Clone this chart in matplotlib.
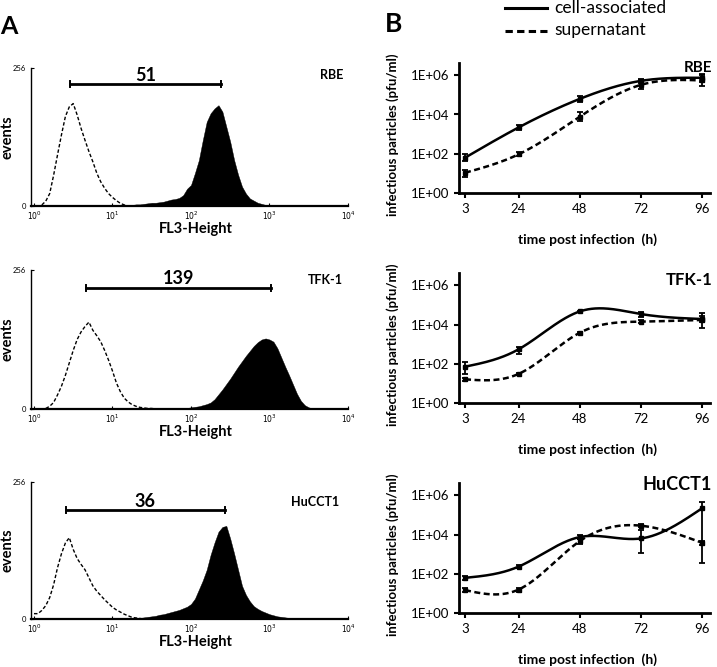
import numpy as np
import matplotlib
matplotlib.use('Agg')
import matplotlib.pyplot as plt
from matplotlib.lines import Line2D
from matplotlib.ticker import NullLocator

plt.rcParams['font.family'] = ['Lato', 'DejaVu Sans']

# ---------------- data: panel A (flow cytometry histograms, 0.05-decade bins) ----------------
hist_step = 0.05
rbe_ctrl_start = 0.10
rbe_ctrl = [2, 9, 23, 57, 95, 132, 166, 184, 190, 169, 144, 122, 101, 82, 61, 45, 33, 23, 16, 10, 5, 2, 0]
rbe_stain_start = 0.60
rbe_stain = [1, 1, 1, 1, 1, 1, 1, 1, 1, 1, 1, 1, 2, 2, 3, 3, 4, 5, 6, 6, 7, 8, 10, 12, 13, 15, 20, 32,
             39, 61, 85, 122, 156, 172, 181, 187, 175, 147, 119, 85, 58, 36, 23, 14, 10, 6, 4, 2, 2, 1, 1, 0]

tfk_ctrl_start = 0.15
tfk_ctrl = [1, 5, 12, 26, 42, 62, 85, 108, 128, 142, 152, 160, 145, 135, 124, 108, 90, 70, 48, 32, 20,
            13, 8, 5, 3, 2, 1, 1, 0]
tfk_stain_start = 1.40
tfk_stain = [1, 1, 1, 1, 1, 1, 1, 1, 1, 1, 2, 2, 3, 4, 5, 7, 9, 12, 18, 27, 36, 46, 56, 67, 78, 88, 98,
             107, 116, 123, 128, 130, 128, 124, 112, 95, 78, 62, 45, 28, 15, 7, 3, 1, 0]

hu_ctrl_start = 0.00
hu_ctrl = [10, 10, 16, 25, 40, 64, 96, 122, 142, 152, 130, 113, 102, 92, 77, 62, 52, 44, 36, 29, 22, 17,
           13, 9, 6, 3, 2, 1, 0]
hu_stain_start = 1.00
hu_stain = [1, 1, 1, 1, 1, 1, 2, 2, 3, 4, 5, 6, 8, 9, 11, 13, 15, 17, 20, 23, 28, 38, 55, 72, 92, 120,
            143, 163, 172, 174, 150, 122, 92, 62, 45, 33, 24, 19, 15, 12, 9, 7, 5, 4, 3, 2, 1, 1, 1, 0]

hist_names = ['RBE', 'TFK-1', 'HuCCT1']
hist_values = ['51', '139', '36']
bar_lo = [0.459, 0.658, 0.403]      # log10 FL3 of marker ends
bar_hi = [2.378, 3.015, 2.433]
bar_y = [226, 223, 204]

# ---------------- data: panel B (growth curves) ----------------
hours = [3, 24, 48, 72, 96]

rbe_cell = [64, 2200, 62000, 510000, 730000]
rbe_cell_lo = [44, 1700, 45000, 400000, 440000]
rbe_cell_hi = [95, 2800, 91000, 640000, 1170000]
rbe_sup = [11, 95, 7700, 320000, 535000]
rbe_sup_lo = [7, 75, 4800, 190000, 280000]
rbe_sup_hi = [15.5, 120, 13800, 575000, 1050000]

tfk_cell = [72, 550, 46000, 34000, 19000]
tfk_cell_lo = [31, 320, 41000, 25000, 14000]
tfk_cell_hi = [120, 740, 51000, 44000, 28000]
tfk_sup = [16.5, 31, 3800, 14000, 17000]
tfk_sup_lo = [14, 28, 3400, 11500, 7000]
tfk_sup_hi = [19.5, 35, 4300, 17000, 40000]

hu_cell = [63, 234, 7400, 6300, 215000]
hu_cell_lo = [49, 200, 5600, 1200, 340]
hu_cell_hi = [80, 275, 9500, 16000, 466000]
hu_sup = [15, 16, 4600, 28000, 3800]
hu_sup_lo = [12, 12.5, 3400, 23000, 3000]
hu_sup_hi = [19, 20, 6000, 34000, 4700]

y_ticks = [1, 1e2, 1e4, 1e6]
y_ticklabels = ['1E+00', '1E+02', '1E+04', '1E+06']

# ---------------- helpers ----------------
W, H = 717, 667
fig = plt.figure(figsize=(W / 100, H / 100), dpi=100)


def fx(x):
    return x / W


def fy(y):
    return 1 - y / H


def natural_cubic(x, y, xs):
    x = np.asarray(x, float)
    y = np.asarray(y, float)
    n = len(x)
    h = np.diff(x)
    A = np.zeros((n, n))
    b = np.zeros(n)
    A[0, 0] = 1
    A[-1, -1] = 1
    for i in range(1, n - 1):
        A[i, i - 1] = h[i - 1]
        A[i, i] = 2 * (h[i - 1] + h[i])
        A[i, i + 1] = h[i]
        b[i] = 6 * ((y[i + 1] - y[i]) / h[i] - (y[i] - y[i - 1]) / h[i - 1])
    M = np.linalg.solve(A, b)
    idx = np.clip(np.searchsorted(x, xs) - 1, 0, n - 2)
    x0 = x[idx]
    x1 = x[idx + 1]
    hh = x1 - x0
    t0 = x1 - xs
    t1 = xs - x0
    return ((M[idx] * t0 ** 3 + M[idx + 1] * t1 ** 3) / (6 * hh)
            + (y[idx] / hh - M[idx] * hh / 6) * t0
            + (y[idx + 1] / hh - M[idx + 1] * hh / 6) * t1)


# ---------------- panel A ----------------
a_rows = [(68, 206), (270, 409), (482, 619)]   # pixel y of 256 and 0
a_left, a_right = 31, 348
hist_data = [
    (rbe_ctrl_start, rbe_ctrl, rbe_stain_start, rbe_stain),
    (tfk_ctrl_start, tfk_ctrl, tfk_stain_start, tfk_stain),
    (hu_ctrl_start, hu_ctrl, hu_stain_start, hu_stain),
]
name_pos = [(3.79, 243), (3.71, 237), (3.58, 219)]
num_pos = [(1.42, 243), (1.84, 240), (1.42, 219)]

for i, ((ytop, ybot), (cs, cc, ss, sc)) in enumerate(zip(a_rows, hist_data)):
    ax = fig.add_axes([fx(a_left), fy(ybot), (a_right - a_left) / W, (ybot - ytop) / H])
    lc = cs + hist_step * np.arange(len(cc))
    ls_ = ss + hist_step * np.arange(len(sc))
    ax.fill_between(10 ** ls_, sc, color='black', lw=0.3)
    ax.plot(10 ** lc, cc, color='black', lw=1.0, ls=(0, (2.5, 1.5)))
    ax.set_xscale('log')
    ax.set_xlim(10 ** -0.038, 1e4)
    ax.set_ylim(0, 256)
    ax.set_xticks([1, 10, 100, 1000, 10000])
    ax.set_xticklabels([r'$10^{0}$', r'$10^{1}$', r'$10^{2}$', r'$10^{3}$', r'$10^{4}$'])
    ax.xaxis.set_minor_locator(NullLocator())
    ax.set_yticks([0, 256])
    ax.set_yticklabels(['0', '256'])
    ax.tick_params(axis='both', labelsize=5.5, length=2, width=0.8, direction='in')
    ax.tick_params(axis='x', pad=2.5)
    ax.tick_params(axis='y', pad=3.5)
    for s in ['top', 'right']:
        ax.spines[s].set_visible(False)
    ax.spines['left'].set_linewidth(1.0)
    ax.spines['bottom'].set_linewidth(1.6)
    # marker bar
    ax.plot([10 ** bar_lo[i], 10 ** bar_hi[i]], [bar_y[i], bar_y[i]], color='black', lw=2.0)
    for e in (bar_lo[i], bar_hi[i]):
        ax.plot([10 ** e, 10 ** e], [bar_y[i] - 5, bar_y[i] + 5], color='black', lw=1.4)
    ax.text(10 ** num_pos[i][0], num_pos[i][1], hist_values[i], ha='center', va='center',
            fontsize=13, fontweight='bold', clip_on=False)
    ax.text(10 ** name_pos[i][0], name_pos[i][1], hist_names[i], ha='center', va='center',
            fontsize=9, fontweight='bold', clip_on=False)
    fig.text(fx(8), fy((ytop + ybot) / 2), 'events', rotation=90, ha='center', va='center',
             fontsize=10.5, fontweight='bold')
    fig.text(fx(196), fy(ybot + 23), 'FL3-Height', ha='center', va='center',
             fontsize=10.5, fontweight='bold')

fig.text(fx(9), fy(27), 'A', ha='center', va='center', fontsize=18, fontweight='bold')

# ---------------- panel B ----------------
b_rows = [193.3, 403.3, 613.3]   # pixel y of 1E+00
dec_px = 19.7
b_left, b_right = 459, 710
ytop_dec = 6.6
b_data = [
    (rbe_cell, rbe_cell_lo, rbe_cell_hi, rbe_sup, rbe_sup_lo, rbe_sup_hi),
    (tfk_cell, tfk_cell_lo, tfk_cell_hi, tfk_sup, tfk_sup_lo, tfk_sup_hi),
    (hu_cell, hu_cell_lo, hu_cell_hi, hu_sup, hu_sup_lo, hu_sup_hi),
]
b_name_y = [68, 280, 485]
b_name_size = [11, 12, 13]
xs = np.linspace(hours[0], hours[-1], 400)

for i, (ybase, (c, clo, chi, s, slo, shi)) in enumerate(zip(b_rows, b_data)):
    hgt = ytop_dec * dec_px
    ax = fig.add_axes([fx(b_left), fy(ybase), (b_right - b_left) / W, hgt / H])
    for vals, lo, hi, ls in [(c, clo, chi, '-'), (s, slo, shi, (0, (2.4, 1.4)))]:
        v = np.asarray(vals, float)
        curve = 10 ** natural_cubic(hours, np.log10(v), xs)
        ax.plot(xs, curve, color='black', lw=1.8, ls=ls)
        ax.errorbar(hours, v, yerr=[v - np.asarray(lo), np.asarray(hi) - v], fmt='s', ms=2.5,
                    color='black', ecolor='black', elinewidth=1.3, capsize=2.2, capthick=1.3)
    ax.set_yscale('log')
    ax.set_ylim(1, 10 ** ytop_dec)
    ax.set_xlim(0.64, 99.1)
    ax.set_yticks(y_ticks)
    ax.set_yticklabels(y_ticklabels)
    ax.yaxis.set_minor_locator(NullLocator())
    ax.set_xticks(hours)
    ax.set_xticklabels([str(h) for h in hours])
    ax.tick_params(axis='both', labelsize=9.5, length=3.8, width=1.5, direction='out', pad=3)
    for sp in ['top', 'right']:
        ax.spines[sp].set_visible(False)
    for sp in ['left', 'bottom']:
        ax.spines[sp].set_linewidth(2.0)
    fig.text(fx(712), fy(b_name_y[i]), hist_names[i], ha='right', va='center',
             fontsize=b_name_size[i], fontweight='bold')
    fig.text(fx(393), fy(ybase - hgt / 2 + 6), 'infectious particles (pfu/ml)', rotation=90,
             ha='center', va='center', fontsize=9.5, fontweight='bold')
    fig.text(fx(588), fy(ybase + 46), 'time post infection  (h)', ha='center', va='center',
             fontsize=10, fontweight='bold')

fig.text(fx(394), fy(24), 'B', ha='center', va='center', fontsize=19, fontweight='bold')

# legend
fig.add_artist(Line2D([fx(505), fx(547)], [fy(8), fy(8)], color='black', lw=2.2))
fig.add_artist(Line2D([fx(505), fx(547)], [fy(31), fy(31)], color='black', lw=2.2,
                      ls=(0, (2.4, 1.4))))
fig.text(fx(554), fy(8), 'cell-associated', ha='left', va='center', fontsize=12.5)
fig.text(fx(554), fy(30), 'supernatant', ha='left', va='center', fontsize=12.5)

fig.savefig('out.png', dpi=100)
